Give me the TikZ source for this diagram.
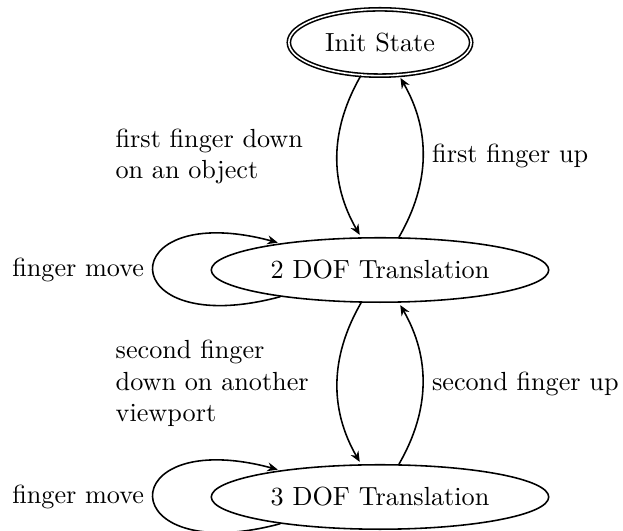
\documentclass[tikz,border=0pt]{standalone}
\usetikzlibrary{arrows.meta,shapes.geometric}
\begin{document}
\begin{tikzpicture}[x=0.3817pt,y=-0.3817pt,>={Stealth[length=4pt,width=3.4pt,inset=1.3pt]},shorten >=1pt,semithick]
\tikzset{
  st/.style={ellipse,draw,minimum height=24.6pt,minimum width=128.8pt,inner sep=0pt},
  accst/.style={ellipse,draw,double,minimum height=25.3pt,minimum width=69.6pt,inner sep=0pt},
  lbl/.style={text width=81pt,align=left},
  every loop/.style={looseness=8.4},
}
\useasboundingbox (0,0) rectangle (623,531);
\node[accst] (init) at (380,42.5) {Init State};
\node[st] (two) at (380,270) {2 DOF Translation};
\node[st] (three) at (380,497) {3 DOF Translation};

\path[->] (init) edge[bend right] node[left,lbl] {first finger down\\on an object} (two)
          (two) edge[bend right] node[right] {first finger up} (init)
          (two) edge[loop left] node[left] {finger move} (two)
          (two) edge[bend right] node[left,lbl] {second finger\\down on another\\viewport} (three)
          (three) edge[bend right] node[right] {second finger up} (two)
          (three) edge[loop left] node[left] {finger move} (three);
\end{tikzpicture}
\end{document}
